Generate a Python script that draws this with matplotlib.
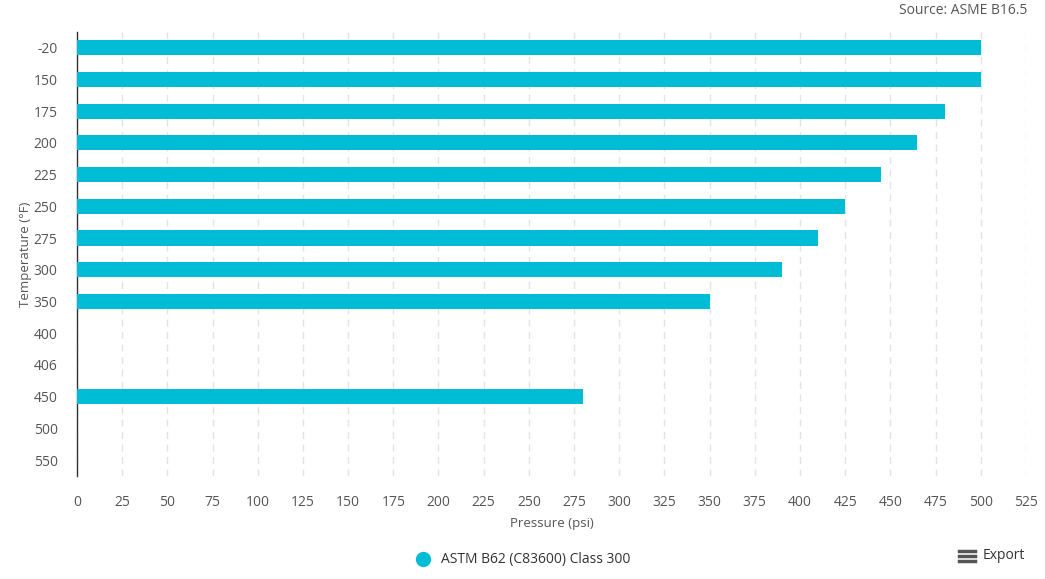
import numpy as np
import matplotlib.pyplot as plt
from matplotlib.lines import Line2D

temps = ["-20", "150", "175", "200", "225", "250", "275", "300", "350",
         "400", "406", "450", "500", "550"]
pressure = [500, 500, 480, 465, 445, 425, 410, 390, 350,
            np.nan, np.nan, 280, np.nan, np.nan]
series_name = "ASTM B62 (C83600) Class 300"
xticks = list(range(0, 526, 25))

bar_color = "#00BCD4"
text_color = "#555555"

plt.rcParams['font.family'] = ['Open Sans', 'DejaVu Sans']
plt.rcParams['font.size'] = 10

fig = plt.figure(figsize=(10.45, 5.79), dpi=100)
ax = fig.add_axes([0.0737, 0.178, 0.908, 0.767])

y = np.arange(len(temps))
ax.barh(y, pressure, height=0.48, color=bar_color, zorder=3)

ax.set_ylim(len(temps) - 0.5, -0.5)
ax.set_xlim(0, 525)
ax.set_yticks(y)
ax.set_yticklabels(temps)
ax.set_xticks(xticks)
ax.tick_params(axis='y', length=0, pad=14, labelcolor=text_color, labelsize=10)
ax.tick_params(axis='x', length=0, pad=14, labelcolor=text_color, labelsize=10)

ax.grid(axis='x', color='#e3e3e3', linestyle=(0, (5, 4)), linewidth=1, zorder=0)
for s in ['top', 'right', 'bottom']:
    ax.spines[s].set_visible(False)
ax.spines['left'].set_color('#333333')
ax.spines['left'].set_linewidth(1)

ax.set_xlabel("Pressure (psi)", color=text_color, fontsize=9.5, labelpad=5)
ax.set_ylabel("Temperature (°F)", color=text_color, fontsize=9.5, labelpad=1)

fig.text(0.983, 0.982, "Source: ASME B16.5", ha='right', va='center',
         color=text_color, fontsize=10)

handle = Line2D([], [], marker='o', linestyle='none', color=bar_color, markersize=10)
fig.legend([handle], [series_name], loc='center', bbox_to_anchor=(0.497, 0.033),
           frameon=False, fontsize=10, labelcolor='#333333', handletextpad=0.3)

# export menu
for dy in (0.0, 0.009, 0.018):
    fig.add_artist(Line2D([0.918, 0.933], [0.031 + dy, 0.031 + dy],
                          transform=fig.transFigure, color='#555555', linewidth=2.5))
fig.text(0.94, 0.04, "Export", ha='left', va='center', color='#333333', fontsize=10)

plt.savefig("out.png", dpi=100)
